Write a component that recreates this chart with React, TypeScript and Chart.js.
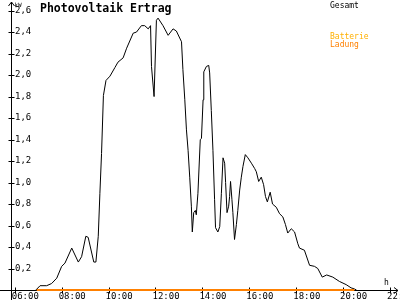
import React, { useEffect, useRef } from 'react';
import { Chart, registerables } from 'chart.js';

Chart.register(...registerables);

const TITLE = 'Photovoltaik Ertrag';
const Y_UNIT = 'kW';
const X_UNIT = 'h';

const LEGEND_LABELS = ['Gesamt', 'Batterie', 'Ladung'];
const LEGEND_COLORS = ['#000000', '#FFB000', '#FF8000'];

const X_TICKS = [6, 8, 10, 12, 14, 16, 18, 20, 22];
const X_TICK_LABELS = ['06:00', '08:00', '10:00', '12:00', '14:00', '16:00', '18:00', '20:00', '22:00'];
const Y_TICKS = [0, 0.2, 0.4, 0.6, 0.8, 1.0, 1.2, 1.4, 1.6, 1.8, 2.0, 2.2, 2.4, 2.6];
const Y_TICK_LABELS = ['', '0,2', '0,4', '0,6', '0,8', '1,0', '1,2', '1,4', '1,6', '1,8', '2,0', '2,2', '2,4', '2,6'];

// hours of day (decimal)
const GESAMT_TIMES = [
  6.90, 7.08, 7.36, 7.57, 7.79, 8.00, 8.14, 8.43, 8.71, 8.85, 9.03, 9.13, 9.37, 9.46, 9.56, 9.63, 9.70, 9.78, 9.89,
  10.06, 10.27, 10.40, 10.62, 10.77, 11.05, 11.19, 11.40, 11.54, 11.69, 11.79, 11.83, 11.94, 12.04, 12.11, 12.32,
  12.54, 12.75, 12.89, 13.11, 13.17, 13.25, 13.32, 13.39, 13.46, 13.53, 13.57, 13.63, 13.70, 13.74, 13.81, 13.91,
  13.96, 14.03, 14.06, 14.17, 14.27, 14.31, 14.38, 14.45, 14.52, 14.56, 14.66, 14.74, 14.81, 14.88, 14.95, 14.99,
  15.05, 15.12, 15.16, 15.20, 15.26, 15.30, 15.37, 15.45, 15.51, 15.59, 15.66, 15.73, 15.83, 15.94, 16.09, 16.23,
  16.30, 16.40, 16.51, 16.61, 16.69, 16.77, 16.89, 16.99, 17.15, 17.29, 17.43, 17.54, 17.64, 17.79, 17.93, 18.07,
  18.14, 18.35, 18.57, 18.78, 18.92, 19.11, 19.30, 19.56, 19.84, 20.13, 20.34, 20.48, 20.57,
];
// kW
const GESAMT_KW = [
  0, 0.04, 0.04, 0.06, 0.11, 0.22, 0.25, 0.39, 0.26, 0.31, 0.50, 0.49, 0.26, 0.26, 0.50, 0.90, 1.27, 1.81, 1.95,
  1.99, 2.07, 2.12, 2.16, 2.25, 2.39, 2.40, 2.46, 2.46, 2.43, 2.46, 2.08, 1.80, 2.51, 2.53, 2.46,
  2.37, 2.43, 2.41, 2.31, 2.05, 1.77, 1.49, 1.30, 1.05, 0.78, 0.54, 0.72, 0.74, 0.70, 0.90, 1.40,
  1.41, 1.77, 2.03, 2.08, 2.09, 2.02, 1.67, 1.30, 0.84, 0.58, 0.54, 0.59, 0.90, 1.23, 1.18, 1.00,
  0.72, 0.78, 0.87, 1.01, 0.84, 0.72, 0.47, 0.61, 0.74, 0.93, 1.05, 1.15, 1.26, 1.23, 1.18, 1.13,
  1.10, 1.01, 1.05, 0.98, 0.87, 0.82, 0.91, 0.80, 0.77, 0.71, 0.68, 0.61, 0.53, 0.57, 0.54, 0.43,
  0.39, 0.37, 0.23, 0.22, 0.20, 0.12, 0.14, 0.12, 0.08, 0.05, 0.02, 0.01, 0,
];

const LADUNG_TIMES = [6.94, 20.48];
const LADUNG_KW = [0, 0];

const MONO = '"DejaVu Sans Mono", monospace';

const decorPlugin = {
  id: 'decor',
  beforeDatasetsDraw(chart: any) {
    const { ctx, chartArea } = chart;
    const xs = chart.scales.x;
    const ys = chart.scales.y;
    ctx.save();
    ctx.strokeStyle = '#000';
    ctx.lineWidth = 1;
    const y0 = Math.round(ys.getPixelForValue(0)) + 0.5;
    const x0 = Math.round(chartArea.left) + 0.5;
    const top = chartArea.top;
    const right = chartArea.right;
    ctx.beginPath();
    ctx.moveTo(0, y0);
    ctx.lineTo(right, y0);
    ctx.moveTo(x0, chart.height);
    ctx.lineTo(x0, top);
    ctx.moveTo(x0 - 3, top + 4);
    ctx.lineTo(x0, top);
    ctx.lineTo(x0 + 3, top + 4);
    ctx.moveTo(right - 4, y0 - 3);
    ctx.lineTo(right, y0);
    ctx.lineTo(right - 4, y0 + 3);
    Y_TICKS.forEach((v) => {
      if (v === 0) return;
      const py = Math.round(ys.getPixelForValue(v)) + 0.5;
      ctx.moveTo(x0 - 3, py);
      ctx.lineTo(x0 + 3, py);
    });
    X_TICKS.forEach((v) => {
      const px = Math.round(xs.getPixelForValue(v)) + 0.5;
      ctx.moveTo(px, y0 - 3);
      ctx.lineTo(px, y0 + 3);
    });
    ctx.stroke();

    ctx.textBaseline = 'alphabetic';
    ctx.textAlign = 'left';
    ctx.fillStyle = '#000';
    ctx.font = 'bold 11.5px ' + MONO;
    ctx.fillText(TITLE, 40, 11.5);

    ctx.font = '6px ' + MONO;
    ctx.fillText(Y_UNIT, x0 + 3, 6.5);

    ctx.font = '8px ' + MONO;
    ctx.fillText(X_UNIT, 384, 284.5);

    const legendY = [7.5, 38.5, 47];
    LEGEND_LABELS.forEach((lab, i) => {
      ctx.fillStyle = LEGEND_COLORS[i];
      ctx.fillText(lab, 330, legendY[i]);
    });
    ctx.restore();
  },
};

export default function App() {
  const ref = useRef<HTMLCanvasElement | null>(null);
  useEffect(() => {
    if (!ref.current) return;
    const chart = new Chart(ref.current, {
      type: 'line',
      data: {
        datasets: [
          {
            label: LEGEND_LABELS[2],
            data: LADUNG_TIMES.map((t, i) => ({ x: t, y: LADUNG_KW[i] })),
            borderColor: LEGEND_COLORS[2],
            borderWidth: 2,
            pointRadius: 0,
            tension: 0,
            fill: false,
            clip: false,
            order: 0,
          },
          {
            label: LEGEND_LABELS[0],
            data: GESAMT_TIMES.map((t, i) => ({ x: t, y: GESAMT_KW[i] })),
            borderColor: LEGEND_COLORS[0],
            borderWidth: 1,
            pointRadius: 0,
            tension: 0,
            fill: false,
            clip: false,
            order: 1,
          },
        ],
      },
      options: {
        animation: false,
        responsive: false,
        maintainAspectRatio: false,
        layout: { padding: { top: 2, right: 2, left: 0, bottom: 0 }, autoPadding: false },
        plugins: {
          legend: { display: false },
          tooltip: { enabled: false },
          title: { display: false },
        },
        scales: {
          x: {
            type: 'linear',
            min: 5.84,
            max: 22.34,
            grid: { display: false, drawTicks: false },
            border: { display: false },
            afterBuildTicks: (s: any) => {
              s.ticks = X_TICKS.map((value) => ({ value }));
            },
            afterFit: (s: any) => {
              s.height = 10;
              s.paddingLeft = 0;
              s.paddingRight = 0;
            },
            ticks: {
              align: 'start',
              labelOffset: -3,
              padding: 1,
              maxRotation: 0,
              minRotation: 0,
              autoSkip: false,
              color: '#000',
              font: { family: MONO, size: 9 },
              callback: (_v: any, i: number) => X_TICK_LABELS[i],
            },
          },
          y: {
            type: 'linear',
            min: 0,
            max: 2.68,
            grid: { display: false, drawTicks: false },
            border: { display: false },
            afterBuildTicks: (s: any) => {
              s.ticks = Y_TICKS.map((value) => ({ value }));
            },
            afterFit: (s: any) => {
              s.width = 11;
              s.paddingTop = 0;
              s.paddingBottom = 0;
            },
            ticks: {
              mirror: true,
              padding: 4,
              autoSkip: false,
              color: '#000',
              font: { family: MONO, size: 9 },
              callback: (_v: any, i: number) => Y_TICK_LABELS[i],
            },
          },
        },
      } as any,
      plugins: [decorPlugin],
    });
    return () => chart.destroy();
  }, []);
  return (
    <div style={{ position: 'fixed', left: 0, top: 0, width: 400, height: 300, background: '#fff' }}>
      <canvas ref={ref} width={400} height={300} style={{ display: 'block', width: 400, height: 300 }} />
    </div>
  );
}
